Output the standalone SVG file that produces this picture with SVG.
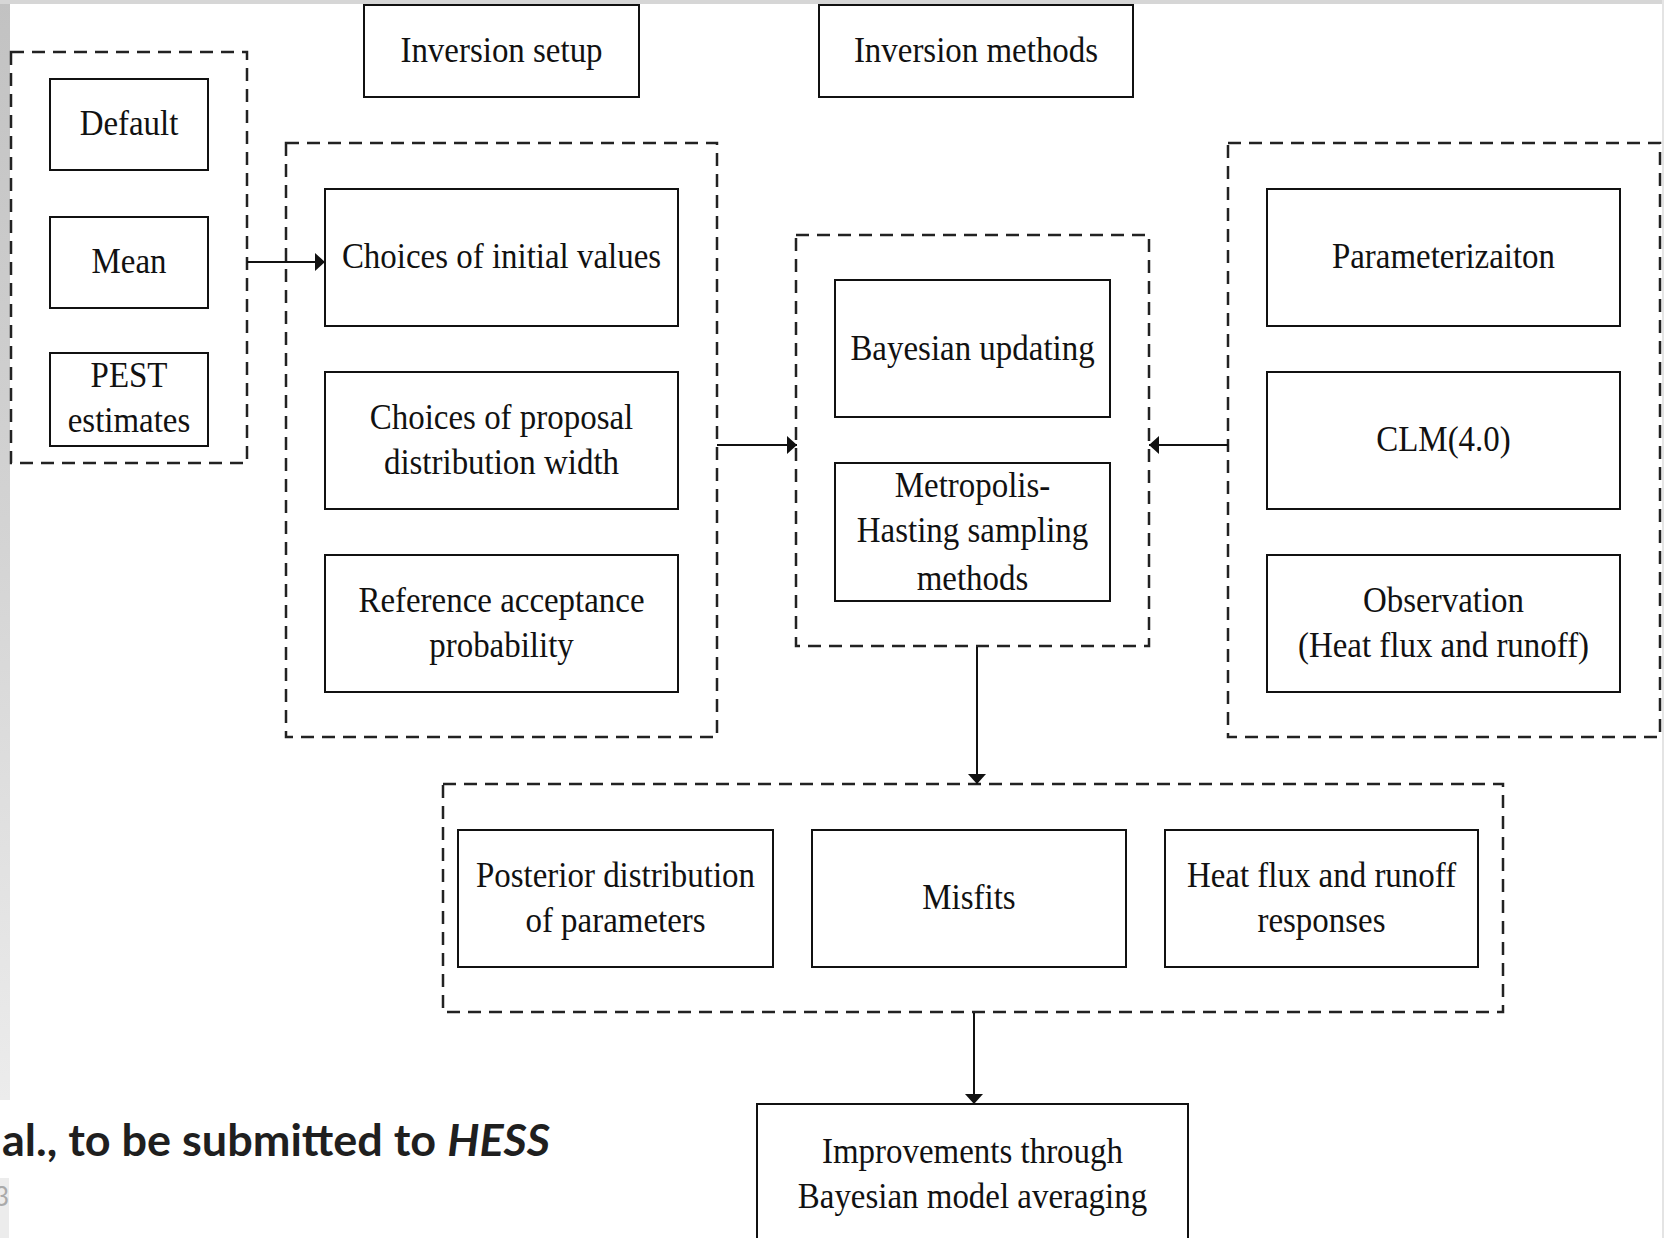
<svg xmlns="http://www.w3.org/2000/svg" width="1664" height="1238" viewBox="0 0 1664 1238">
<defs>
<linearGradient id="lg" x1="0" y1="0" x2="0" y2="1">
<stop offset="0" stop-color="#c2c2c2"/>
<stop offset="0.5" stop-color="#d4d4d4"/>
<stop offset="1" stop-color="#ececec"/>
</linearGradient>
<marker id="ah" markerUnits="userSpaceOnUse" markerWidth="10" markerHeight="18" refX="10" refY="9" orient="auto">
<path d="M0,0 L10,9 L0,18 Z" fill="#111"/>
</marker>
<style>
.box{fill:#fff;stroke:#111;stroke-width:2}
.dash{fill:none;stroke:#222;stroke-width:2.5;stroke-dasharray:13 8}
.t{font-family:"Liberation Serif","Times New Roman",serif;font-size:36px;fill:#111;text-anchor:middle}
.con{fill:none;stroke:#111;stroke-width:2;marker-end:url(#ah)}
.cap{font-family:Lato,"Open Sans",sans-serif;font-weight:bold;font-size:44px;fill:#1f1f1f}
</style>
</defs>
<rect x="0" y="0" width="1664" height="1238" fill="#fff"/>
<rect x="0" y="0" width="10" height="1100" fill="url(#lg)"/>
<rect x="0" y="1178" width="9" height="60" fill="#ececec"/>
<rect x="0" y="0" width="1664" height="4" fill="#d6d6d6"/>
<rect x="1662" y="0" width="2" height="1238" fill="#e4e4e4"/>

<g id="init-options">
<rect class="dash" x="11" y="52" width="236" height="411"/>
</g>
<g id="default"><rect class="box" x="50" y="79" width="158" height="91"/>
<text class="t" transform="translate(129,135) scale(0.915,1)">Default</text></g>
<g id="mean"><rect class="box" x="50" y="217" width="158" height="91"/>
<text class="t" transform="translate(129,273) scale(0.915,1)">Mean</text></g>
<g id="pest"><rect class="box" x="50" y="353" width="158" height="93"/>
<text class="t" transform="translate(129,387) scale(0.915,1)">PEST</text>
<text class="t" transform="translate(129,432) scale(0.915,1)">estimates</text></g>

<g id="inversion-setup"><rect class="box" x="364" y="5" width="275" height="92"/>
<text class="t" transform="translate(501.5,62) scale(0.915,1)">Inversion setup</text></g>
<g id="inversion-methods"><rect class="box" x="819" y="5" width="314" height="92"/>
<text class="t" transform="translate(976,62) scale(0.915,1)">Inversion methods</text></g>

<g id="setup-group"><rect class="dash" x="286" y="143" width="431" height="594"/></g>
<g id="initial-values"><rect class="box" x="325" y="189" width="353" height="137"/>
<text class="t" transform="translate(501.5,268) scale(0.915,1)">Choices of initial values</text></g>
<g id="proposal-width"><rect class="box" x="325" y="372" width="353" height="137"/>
<text class="t" transform="translate(501.5,429) scale(0.915,1)">Choices of proposal</text>
<text class="t" transform="translate(501.5,474) scale(0.915,1)">distribution width</text></g>
<g id="acceptance"><rect class="box" x="325" y="555" width="353" height="137"/>
<text class="t" transform="translate(501.5,612) scale(0.915,1)">Reference acceptance</text>
<text class="t" transform="translate(501.5,657) scale(0.915,1)">probability</text></g>

<g id="methods-group"><rect class="dash" x="796" y="235" width="353" height="411"/></g>
<g id="bayesian-updating"><rect class="box" x="835" y="280" width="275" height="137"/>
<text class="t" transform="translate(972.5,360) scale(0.915,1)">Bayesian updating</text></g>
<g id="metropolis"><rect class="box" x="835" y="463" width="275" height="138"/>
<text class="t" transform="translate(972.5,497) scale(0.915,1)">Metropolis-</text>
<text class="t" transform="translate(972.5,542) scale(0.915,1)">Hasting sampling</text>
<text class="t" transform="translate(972.5,590) scale(0.915,1)">methods</text></g>

<g id="model-group"><rect class="dash" x="1228" y="143" width="432" height="594"/></g>
<g id="parameterization"><rect class="box" x="1267" y="189" width="353" height="137"/>
<text class="t" transform="translate(1443.5,268) scale(0.915,1)">Parameterizaiton</text></g>
<g id="clm"><rect class="box" x="1267" y="372" width="353" height="137"/>
<text class="t" transform="translate(1443.5,451) scale(0.915,1)">CLM(4.0)</text></g>
<g id="observation"><rect class="box" x="1267" y="555" width="353" height="137"/>
<text class="t" transform="translate(1443.5,612) scale(0.915,1)">Observation</text>
<text class="t" transform="translate(1443.5,657) scale(0.915,1)">(Heat flux and runoff)</text></g>

<g id="results-group"><rect class="dash" x="443" y="784" width="1060" height="228"/></g>
<g id="posterior"><rect class="box" x="458" y="830" width="315" height="137"/>
<text class="t" transform="translate(615.5,887) scale(0.915,1)">Posterior distribution</text>
<text class="t" transform="translate(615.5,932) scale(0.915,1)">of parameters</text></g>
<g id="misfits"><rect class="box" x="812" y="830" width="314" height="137"/>
<text class="t" transform="translate(969,909) scale(0.915,1)">Misfits</text></g>
<g id="responses"><rect class="box" x="1165" y="830" width="313" height="137"/>
<text class="t" transform="translate(1321.5,887) scale(0.915,1)">Heat flux and runoff</text>
<text class="t" transform="translate(1321.5,932) scale(0.915,1)">responses</text></g>

<g id="improvements"><rect class="box" x="757" y="1104" width="431" height="150"/>
<text class="t" transform="translate(972.5,1163) scale(0.915,1)">Improvements through</text>
<text class="t" transform="translate(972.5,1208) scale(0.915,1)">Bayesian model averaging</text></g>

<g id="connectors">
<path class="con" d="M247,262 H325"/>
<path class="con" d="M717,445 H797"/>
<path class="con" d="M1228,445 H1149"/>
<path class="con" d="M977,647 V784"/>
<path class="con" d="M974,1013 V1104"/>
</g>

<text class="cap" x="2" y="1156" textLength="548" lengthAdjust="spacingAndGlyphs">al., to be submitted to <tspan font-style="italic">HESS</tspan></text>
<text x="-6" y="1206" font-family="Lato,sans-serif" font-size="26" fill="#aaa">3</text>
</svg>
